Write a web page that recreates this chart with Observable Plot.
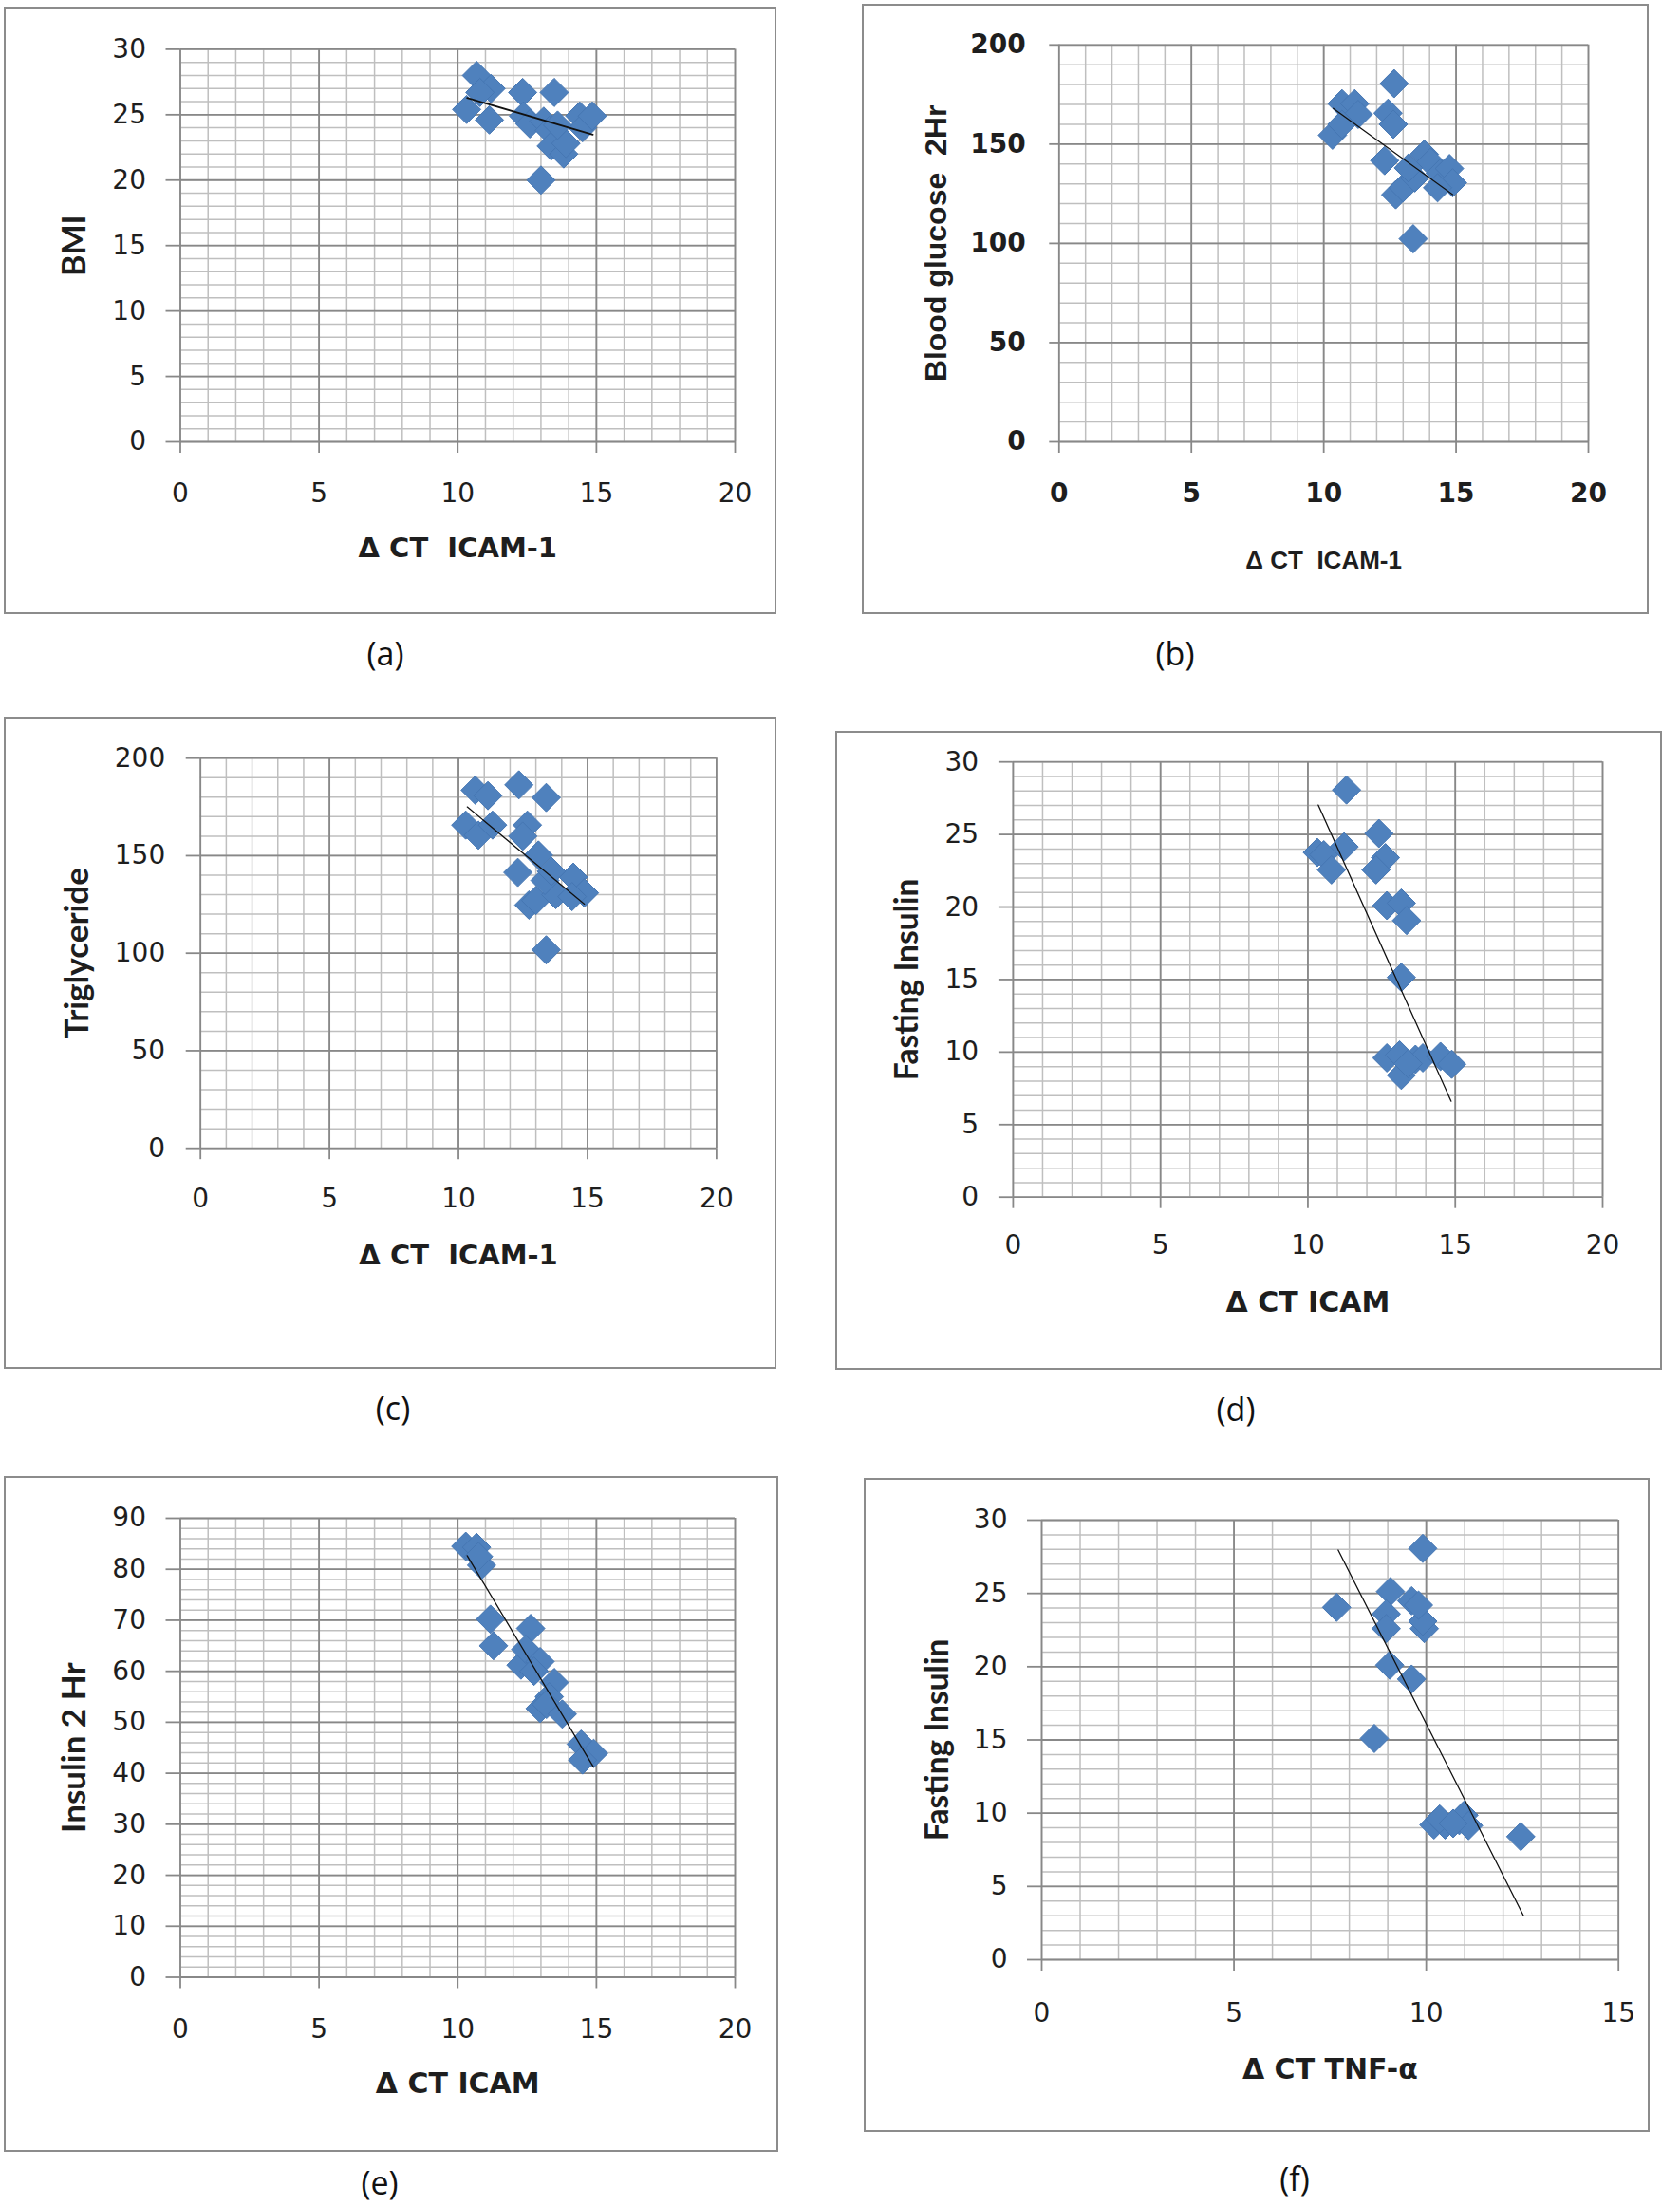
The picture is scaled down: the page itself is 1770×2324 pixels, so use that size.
<!DOCTYPE html>
<html><head><meta charset="utf-8">
<script src="https://cdn.jsdelivr.net/npm/d3@7"></script>
<script src="https://cdn.jsdelivr.net/npm/@observablehq/plot@0.6"></script>
<style>
body{margin:0;background:#fff;}
#page{position:relative;width:1770px;height:2324px;background:#fff;overflow:hidden}
.box{position:absolute;box-sizing:border-box;border:2.5px solid #8c8c8c;background:#fff}
.plot{position:absolute;}
.cap{position:absolute;transform:translate(-50%,-50%);font-family:"Open Sans",sans-serif;font-size:34px;color:#111;white-space:nowrap;line-height:1.1}
</style></head><body><div id="page"></div>
<script>
// ---- data ----
// (a) BMI vs ΔCT ICAM-1
const aX = [10.68, 11.2, 10.8, 10.32, 11.14, 12.34, 12.37, 12.6, 13.48, 13.1, 13.3, 13.37, 13.82, 13.9, 13.0, 14.4, 14.5, 14.85, 13.6];
const aY = [28.0, 27.0, 26.7, 25.4, 24.6, 26.7, 24.9, 24.3, 26.7, 24.5, 23.8, 22.6, 22.0, 22.8, 20.0, 24.9, 24.0, 24.9, 24.2];
const aTrendX = [10.34, 14.87], aTrendY = [26.28, 23.48];
// (b) Blood glucose 2Hr vs ΔCT ICAM-1
const bX = [12.66, 10.69, 11.17, 11.3, 12.43, 12.63, 10.33, 10.69, 12.3, 12.72, 13.0, 13.38, 13.8, 14.04, 14.4, 14.75, 14.87, 13.44, 13.2, 14.3];
const bY = [180.5, 170.4, 170.4, 165, 165.6, 160, 154.5, 160, 141.7, 124.5, 128, 102.3, 144.9, 140.9, 135.3, 137.7, 130.5, 133, 138, 128];
const bTrendX = [10.36, 14.87], bTrendY = [168.0, 124.6];
// (c) Triglyceride vs ΔCT ICAM-1
const cX = [10.65, 11.14, 12.34, 13.4, 10.28, 10.77, 11.32, 12.67, 12.49, 13.1, 12.3, 12.73, 13.0, 13.4, 14.45, 14.88, 13.77, 13.35, 14.4, 13.6];
const cY = [183.6, 180.8, 186.3, 179.8, 165.7, 160.5, 165.7, 165.7, 160, 150.3, 141.4, 124.7, 127, 101.7, 139, 130.9, 130, 137.3, 129, 142];
const cTrendX = [10.34, 14.88], cTrendY = [175.0, 125.2];
// (d) Fasting Insulin vs ΔCT ICAM
const dX = [11.31, 12.41, 11.23, 10.32, 10.54, 10.8, 12.63, 12.31, 12.68, 13.17, 13.35, 13.17, 12.68, 13.11, 13.17, 13.65, 13.9, 14.5, 14.88, 13.4];
const dY = [28.07, 25.07, 24.15, 23.76, 23.6, 22.56, 23.4, 22.56, 20.1, 20.27, 19.07, 15.15, 9.6, 9.8, 8.4, 9.5, 9.6, 9.7, 9.16, 9.2];
const dTrendX = [10.35, 14.86], dTrendY = [27.03, 6.61];
// (e) Insulin 2 Hr vs ΔCT ICAM
const eX = [10.29, 10.68, 10.86, 10.75, 11.18, 11.29, 12.63, 12.28, 12.45, 12.97, 12.75, 13.48, 13.3, 12.97, 13.2, 13.77, 14.45, 14.9, 14.5];
const eY = [84.5, 84.3, 80.8, 82.5, 70.2, 65, 68.4, 61.2, 64.3, 61.9, 60, 57.8, 55, 52.7, 53.5, 51.6, 45.7, 43.9, 42.6];
const eTrendX = [10.34, 14.89], eTrendY = [82.67, 41.24];
// (f) Fasting Insulin vs ΔCT TNF-α
const fX = [9.91, 7.67, 9.07, 9.62, 8.96, 8.96, 9.95, 9.91, 9.05, 9.62, 8.65, 12.46, 10.2, 10.49, 10.86, 10.98, 11.1, 10.35, 10.7, 9.8];
const fY = [28.07, 24.05, 25.13, 24.5, 23.6, 22.6, 22.6, 23.1, 20.1, 19.15, 15.1, 8.4, 9.2, 9.2, 9.5, 9.86, 9.15, 9.6, 9.3, 24.2];
const fTrendX = [7.71, 12.53], fTrendY = [27.96, 3.0];

// tick labels
const ticks0to20 = [0, 5, 10, 15, 20];
const ticks0to15 = [0, 5, 10, 15];
const ticks0to30 = [0, 5, 10, 15, 20, 25, 30];
const ticks0to200 = [0, 50, 100, 150, 200];
const ticks0to90 = [0, 10, 20, 30, 40, 50, 60, 70, 80, 90];

// text labels
const xLabels = {a: "Δ CT  ICAM-1", b: "Δ CT  ICAM-1", c: "Δ CT  ICAM-1", d: "Δ CT ICAM", e: "Δ CT ICAM", f: "Δ CT TNF-α"};
const yLabels = {a: "BMI", b: "Blood glucose  2Hr", c: "Triglyceride", d: "Fasting Insulin", e: "Insulin 2 Hr", f: "Fasting Insulin"};
const captions = {a: "(a)", b: "(b)", c: "(c)", d: "(d)", e: "(e)", f: "(f)"};

// ---- layout & style ----
const WIDE = "'DejaVu Sans', sans-serif";
const NARROW = "Lato, 'Open Sans', sans-serif";
const ARIAL = "'Liberation Sans', Arial, sans-serif";

const panels = [
  {id:"a", xs:aX, ys:aY, tx:aTrendX, ty:aTrendY, xt:ticks0to20, yt:ticks0to30, xMinor:1, yMinor:1,
   box:[4,7,818,647], area:[189.5,51.4,774,465], xPad:31.3, yPad:21, yTick:15, xTitle:112.6, yTitle:111.2,
   cap:[406,689], tickFont:WIDE, tickWeight:"normal", tickSize:28, xtFont:WIDE, xtSize:29, ytFont:NARROW, ytSize:34, trendW:1.8},
  {id:"b", xs:bX, ys:bY, tx:bTrendX, ty:bTrendY, xt:ticks0to20, yt:ticks0to200, xMinor:1, yMinor:10,
   box:[908,4,1737,647], area:[1115.3,46.8,1673,465], xPad:31.2, yPad:25, yTick:10, xTitle:125, yTitle:128.7,
   cap:[1238,689], tickFont:WIDE, tickWeight:"bold", tickSize:28, xtFont:ARIAL, xtSize:26, ytFont:ARIAL, ytSize:32, trendW:1.3},
  {id:"c", xs:cX, ys:cY, tx:cTrendX, ty:cTrendY, xt:ticks0to20, yt:ticks0to200, xMinor:1, yMinor:10,
   box:[4,755,818,1442], area:[210.7,798.2,754.4,1209.2], xPad:30.5, yPad:22, yTick:15, xTitle:112.8, yTitle:129,
   cap:[414,1484], tickFont:WIDE, tickWeight:"normal", tickSize:28, xtFont:WIDE, xtSize:29, ytFont:NARROW, ytSize:35, trendW:1.3},
  {id:"d", xs:dX, ys:dY, tx:dTrendX, ty:dTrendY, xt:ticks0to20, yt:ticks0to30, xMinor:1, yMinor:1,
   box:[880,770,1751,1443], area:[1066.9,802.2,1688,1260.7], xPad:27.6, yPad:21.2, yTick:15, xTitle:111, yTitle:110.9,
   cap:[1302,1485], tickFont:WIDE, tickWeight:"normal", tickSize:28, xtFont:WIDE, xtSize:30, ytFont:NARROW, ytSize:33.5, trendW:1.3},
  {id:"e", xs:eX, ys:eY, tx:eTrendX, ty:eTrendY, xt:ticks0to20, yt:ticks0to90, xMinor:1, yMinor:2,
   box:[4,1555,820,2267], area:[189.5,1599,774,2082.5], xPad:31.8, yPad:21, yTick:15, xTitle:112.5, yTitle:111.5,
   cap:[400,2300], tickFont:WIDE, tickWeight:"normal", tickSize:28, xtFont:WIDE, xtSize:30, ytFont:NARROW, ytSize:35, trendW:1.3},
  {id:"f", xs:fX, ys:fY, tx:fTrendX, ty:fTrendY, xt:ticks0to15, yt:ticks0to30, xMinor:1, yMinor:1,
   box:[910,1557,1738,2246], area:[1097,1601,1704.7,2064], xPad:33.3, yPad:21, yTick:15, xTitle:116, yTitle:109.3,
   cap:[1364,2296], tickFont:WIDE, tickWeight:"normal", tickSize:28, xtFont:WIDE, xtSize:30, ytFont:NARROW, ytSize:33.5, trendW:1.3}
];

const page = document.getElementById("page");
const MINOR = "#bfbfbf", MAJOR = "#888888", TXT = "#1e1e1e";

for (const p of panels) {
  const [L, T, R, B] = p.box;
  const [x0, y0, x1, y1] = p.area;
  const box = document.createElement("div");
  box.className = "box";
  Object.assign(box.style, {left: L + "px", top: T + "px", width: (R - L) + "px", height: (B - T) + "px"});
  page.appendChild(box);

  const pts = p.xs.map((x, i) => ({x, y: p.ys[i]}));
  const trend = p.tx.map((x, i) => ({x, y: p.ty[i]}));
  const xMax = p.xt[p.xt.length - 1], yMax = p.yt[p.yt.length - 1];
  const minorX = d3.range(0, xMax + 1e-9, p.xMinor);
  const minorY = d3.range(0, yMax + 1e-9, p.yMinor);

  const svg = Plot.plot({
    width: R - L, height: B - T,
    marginLeft: x0 - L, marginRight: R - x1, marginTop: y0 - T, marginBottom: B - y1,
    style: {background: "none", overflow: "visible"},
    x: {domain: [0, xMax]}, y: {domain: [0, yMax]},
    marks: [
      Plot.gridX(minorX, {stroke: MINOR, strokeOpacity: 1, strokeWidth: 1.5}),
      Plot.gridY(minorY, {stroke: MINOR, strokeOpacity: 1, strokeWidth: 1.5}),
      Plot.gridX(p.xt, {stroke: MAJOR, strokeOpacity: 1, strokeWidth: 1.8}),
      Plot.gridY(p.yt, {stroke: MAJOR, strokeOpacity: 1, strokeWidth: 1.8}),
      Plot.axisX(p.xt, {tickSize: 12, tickPadding: p.xPad, stroke: MAJOR, strokeWidth: 1.8, fill: TXT,
        fontSize: p.tickSize, fontFamily: p.tickFont, fontWeight: p.tickWeight, label: null, tickFormat: d => String(d)}),
      Plot.axisY(p.yt, {tickSize: p.yTick, tickPadding: p.yPad, stroke: MAJOR, strokeWidth: 1.8, fill: TXT,
        fontSize: p.tickSize, fontFamily: p.tickFont, fontWeight: p.tickWeight, label: null, tickFormat: d => String(d)}),
      Plot.dot(pts, {x: "x", y: "y", symbol: "diamond2", r: 13.5, fill: "#4F81BD", stroke: "#4677B3", strokeWidth: 1}),
      Plot.line(trend, {x: "x", y: "y", stroke: "#111", strokeWidth: p.trendW}),
      Plot.text([xLabels[p.id]], {text: d => d, frameAnchor: "bottom", dy: p.xTitle, textAnchor: "middle", lineAnchor: "middle",
        fontSize: p.xtSize, fontWeight: "bold", fontFamily: p.xtFont, fill: TXT}),
      Plot.text([yLabels[p.id]], {text: d => d, frameAnchor: "left", dx: -p.yTitle, rotate: -90, textAnchor: "middle", lineAnchor: "middle",
        fontSize: p.ytSize, fontWeight: "bold", fontFamily: p.ytFont, fill: TXT})
    ]
  });
  svg.classList.add("plot");
  Object.assign(svg.style, {left: L + "px", top: T + "px"});
  page.appendChild(svg);

  const cap = document.createElement("div");
  cap.className = "cap";
  cap.textContent = captions[p.id];
  Object.assign(cap.style, {left: p.cap[0] + "px", top: p.cap[1] + "px"});
  page.appendChild(cap);
}
</script>
</body></html>
